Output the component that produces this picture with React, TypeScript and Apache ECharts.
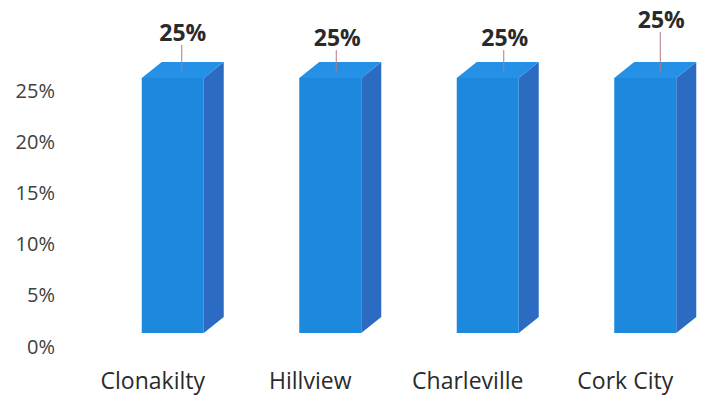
import React, { useEffect, useRef } from "react";
import * as echarts from "echarts";

const categories = ["Clonakilty", "Hillview", "Charleville", "Cork City"];
const values = [25, 25, 25, 25];
const yTicks = [0, 5, 10, 15, 20, 25];

// styling nudges for the data labels (pixels relative to bar top-centre)
const labelDx = [10, 7, 17, 16];
const labelDy = [-46, -41, -41, -59];

export default function App() {
  const ref = useRef<HTMLDivElement>(null);
  useEffect(() => {
    const chart = echarts.init(ref.current!, null, { renderer: "svg" });
    const font = "'Open Sans', 'Liberation Sans', sans-serif";
    const option = {
      animation: false,
      backgroundColor: "#ffffff",
      grid: { left: 74, width: 636, top: 90, bottom: 51 },
      xAxis: {
        type: "category",
        data: categories,
        axisLine: { show: false },
        axisTick: { show: false },
        axisLabel: { color: "#2b2b2b", fontSize: 23, fontFamily: font, margin: 22 },
      },
      yAxis: {
        type: "value",
        min: yTicks[0],
        max: yTicks[yTicks.length - 1],
        interval: 5,
        splitLine: { show: false },
        axisLine: { show: false },
        axisTick: { show: false },
        axisLabel: {
          color: "#404040",
          fontSize: 20,
          fontFamily: font,
          margin: 19,
          formatter: (v: number) => v + "%",
        },
      },
      series: [
        {
          type: "custom",
          clip: false,
          data: values.map((v, i) => [i, v]),
          renderItem: (params: any, api: any) => {
            const idx = api.value(0);
            const v = api.value(1);
            const base = api.coord([idx, 0]);
            const top = api.coord([idx, v]);
            const cx = base[0] + 20;
            const hw = 31;
            const dx = 20;
            const dy = -16;
            const x0 = cx - hw;
            const x1 = cx + hw;
            const yb = base[1] - 13;
            const yt = top[1] - 12;
            const lx = cx + labelDx[params.dataIndex];
            const ly = yt + labelDy[params.dataIndex];
            return {
              type: "group",
              children: [
                {
                  type: "polygon",
                  shape: { points: [[x1, yt], [x1 + dx, yt + dy], [x1 + dx, yb + dy], [x1, yb]] },
                  style: { fill: "#2b6cc2" },
                },
                {
                  type: "polygon",
                  shape: { points: [[x0, yt], [x0 + dx, yt + dy], [x1 + dx, yt + dy], [x1, yt]] },
                  style: { fill: "#2490e6" },
                },
                {
                  type: "rect",
                  shape: { x: x0, y: yt, width: x1 - x0, height: yb - yt },
                  style: { fill: "#1c89dc" },
                },
                {
                  type: "line",
                  shape: { x1: lx - 1, y1: ly + 13, x2: lx - 1, y2: yt + dy / 2 + 2 },
                  style: { stroke: "#b07a84", lineWidth: 1 },
                },
                {
                  type: "text",
                  style: {
                    text: v + "%",
                    x: lx,
                    y: ly,
                    align: "center",
                    verticalAlign: "middle",
                    fill: "#2a2a2a",
                    font: "bold 23px " + font,
                  },
                },
              ],
            };
          },
        },
      ],
    };
    chart.setOption(option as any);
    return () => chart.dispose();
  }, []);
  return (
    <div
      ref={ref}
      style={{ position: "absolute", left: 0, top: 0, width: 704, height: 397 }}
    />
  );
}
